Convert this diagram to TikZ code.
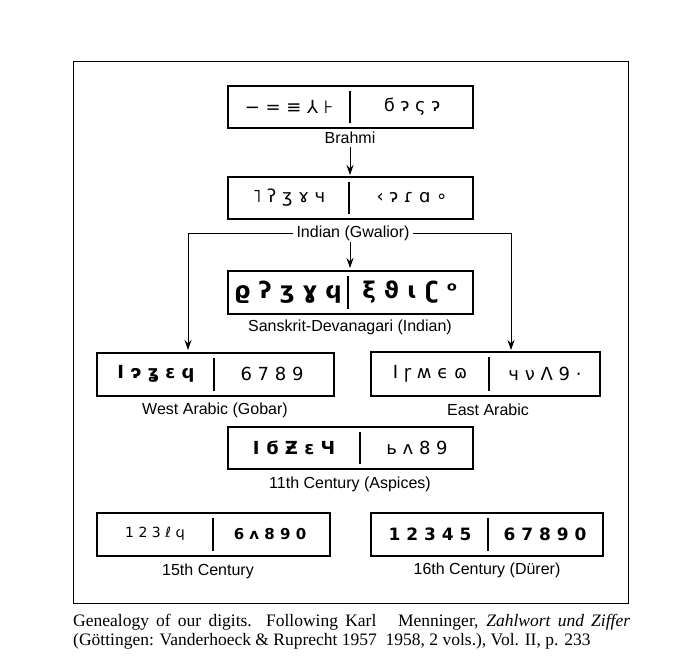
\documentclass[tikz,border=0pt]{standalone}
\usepackage{fontspec}
\usetikzlibrary{arrows.meta}
\setmainfont{Liberation Serif}
\newfontfamily\lab{Liberation Sans}
\newfontfamily\gl{DejaVu Sans}
\begin{document}
\begin{tikzpicture}[x=1pt,y=-1pt,
 box/.style={draw,line width=1.5pt},
 lbl/.style={font=\lab\fontsize{16}{18}\selectfont},
 g/.style={font=\gl\fontsize{18}{20}\selectfont},
 arr/.style={-{Stealth[length=10pt,width=7pt]},line width=1pt}]
\useasboundingbox (0,0) rectangle (692,666);
\draw[line width=1pt] (73,62) rectangle (628,603);
% boxes
\draw[box] (228,86) rectangle (473,128); \draw[line width=1.2pt] (350,91)--(350,123);
\node[g] (b1) at (289,107) {− = ≡ ⅄ ⊦}; \node[g] (b2) at (412,107) {ϭ ɂ ς ɂ};
\node[lbl] (brahmi) at (350,138) {Brahmi};
\draw[box] (228,177) rectangle (473,219); \draw[line width=1.2pt] (349,182)--(349,214);
\node[g] (i1) at (289,198) {˥ ʔ ʒ ɤ ч}; \node[g] (i2) at (412,198) {‹ ɂ ɾ ɑ ∘};
\node[lbl] (indian) at (353,233) {Indian (Gwalior)};
\draw[box,line width=2pt] (228,271) rectangle (473,314); \draw[line width=1.5pt] (348,276)--(348,309);
\node[g,font=\gl\fontsize{23}{25}\selectfont\bfseries] (s1) at (288,292) {ϱ ʔ ʒ ɣ ϥ}; \node[g,font=\gl\fontsize{23}{25}\selectfont\bfseries] (s2) at (410,292) {ξ ϑ ɩ ʗ ᵒ};
\node[lbl] (sanskrit) at (350,327) {Sanskrit-Devanagari (Indian)};
\draw[box] (97,353) rectangle (334,396); \draw[line width=1.2pt] (214,358)--(214,391);
\node[g,font=\gl\fontsize{18}{20}\selectfont\bfseries] (w1) at (156,374) {I ɂ ʓ ɛ ϥ}; \node[g] (w2) at (272,374) {6 7 8 9};
\node[lbl] (west) at (215,410) {West Arabic (Gobar)};
\draw[box] (371,352) rectangle (600,396); \draw[line width=1.2pt] (489,357)--(489,391);
\node[g] (e1) at (430,374) {I ɼ ʍ ϵ ɷ}; \node[g] (e2) at (545,374) {ч ν Λ 9 ·};
\node[lbl] (east) at (488,410) {East Arabic};
\draw[box] (228,427) rectangle (473,469); \draw[line width=1.2pt] (360,432)--(360,464);
\node[g,font=\gl\fontsize{18}{20}\selectfont\bfseries] (c1) at (294,448) {I ϭ Ƶ ɛ Ч}; \node[g] (c2) at (417,448) {ь ʌ 8 9};
\node[lbl] (eleventh) at (350,484) {11th Century (Aspices)};
\draw[box] (97,513) rectangle (330,556); \draw[line width=1.2pt] (213,518)--(213,551);
\node[g,font=\gl\fontsize{14}{16}\selectfont] (f1) at (155,534) {1 2 3 ℓ ϥ}; \node[g,font=\gl\fontsize{15}{17}\selectfont\bfseries] (f2) at (270,534) {6 ʌ 8 9 0};
\node[lbl] (fifteenth) at (208,571) {15th Century};
\draw[box] (371,513) rectangle (603,556); \draw[line width=1.2pt] (488,518)--(488,551);
\node[g,font=\gl\fontsize{17}{19}\selectfont\bfseries] (x1) at (430,534) {1 2 3 4 5}; \node[g,font=\gl\fontsize{17}{19}\selectfont\bfseries] (x2) at (545,534) {6 7 8 9 0};
\node[lbl] (sixteenth) at (487,570) {16th Century (Dürer)};
% arrows
\coordinate (t1) at (350,175); \coordinate (t2) at (350,268);
\draw[arr] (brahmi) -- (t1);
\draw[arr] (350,242) -- (t2);
\coordinate (wl) at (188,350); \coordinate (el) at (511,350);
\draw[arr] (indian.west) -| (wl);
\draw[arr] (indian.east) -| (el);
% caption
\node[anchor=west,inner sep=0pt,font=\fontsize{17.5}{19}\selectfont] (cap1) at (73,622) {\makebox[557pt][s]{Genealogy of our digits. Following Karl \ \ Menninger, \textit{Zahlwort und Ziffer}}};
\node[anchor=west,inner sep=0pt,font=\fontsize{17.5}{19}\selectfont] (cap2) at (73,641) {(Göttingen: Vanderhoeck \& Ruprecht 1957 \ 1958, 2 vols.), Vol. II, p. 233};
\end{tikzpicture}
\end{document}
